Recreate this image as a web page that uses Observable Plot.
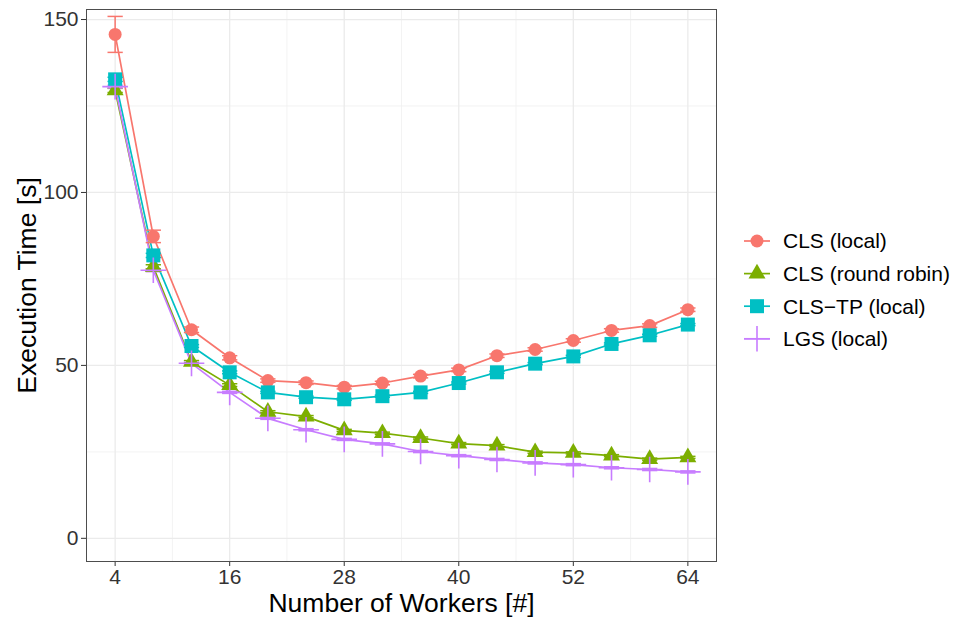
<!DOCTYPE html>
<html>
<head>
<meta charset="utf-8">
<script src="https://cdn.jsdelivr.net/npm/d3@7"></script>
<script src="https://cdn.jsdelivr.net/npm/@observablehq/plot@0.6"></script>
<style>
  html, body { margin: 0; padding: 0; background: #fff; }
  #chart { width: 953px; height: 621px; }
</style>
</head>
<body>
<div id="chart"></div>
<script>
// Execution time vs. number of workers for four scheduling variants
const workers = [4, 8, 12, 16, 20, 24, 28, 32, 36, 40, 44, 48, 52, 56, 60, 64];

const seriesNames = ["CLS (local)", "CLS (round robin)", "CLS\u2212TP (local)", "LGS (local)"];
const seriesColors = ["#F8766D", "#7CAE00", "#00BFC4", "#C77CFF"];
const seriesSymbols = ["circle", "triangle", "square", "plus"];

const clsLocal = [145.7, 87.3, 60.3, 52.2, 45.6, 45.0, 43.7, 44.9, 46.9, 48.7, 52.8, 54.6, 57.2, 60.1, 61.5, 66.1];
const clsRoundRobin = [129.5, 78.5, 51.0, 44.3, 36.6, 35.2, 31.2, 30.4, 29.0, 27.4, 26.8, 24.9, 24.7, 23.9, 22.9, 23.4];
const clsTpLocal = [132.7, 81.8, 55.6, 48.0, 42.2, 40.8, 40.2, 41.1, 42.2, 44.9, 48.0, 50.5, 52.6, 56.2, 58.7, 61.8];
const lgsLocal = [130.6, 77.5, 50.6, 42.2, 34.7, 31.4, 28.6, 27.3, 25.1, 23.9, 22.8, 21.8, 21.3, 20.4, 19.9, 19.2];

// standard errors of the repeated runs
const clsLocalErr = [5.2, 1.8, 0.8, 0.6, 0.5, 0.5, 0.5, 0.5, 0.5, 0.5, 0.5, 0.5, 0.5, 0.5, 0.5, 0.5];
const clsRoundRobinErr = [0.6, 0.6, 0.4, 0.4, 0.3, 0.3, 0.3, 0.3, 0.3, 0.3, 0.3, 0.3, 0.3, 0.3, 0.3, 0.3];
const clsTpLocalErr = [0.6, 0.6, 0.4, 0.4, 0.3, 0.3, 0.3, 0.3, 0.3, 0.3, 0.3, 0.3, 0.3, 0.3, 0.3, 0.3];
const lgsLocalErr = [0.4, 0.4, 0.3, 0.3, 0.3, 0.3, 0.3, 0.3, 0.3, 0.3, 0.3, 0.3, 0.3, 0.3, 0.3, 0.3];

const xTicks = [4, 16, 28, 40, 52, 64];
const xMinor = [10, 22, 34, 46, 58];
const yTicks = [0, 50, 100, 150];
const yMinor = [25, 75, 125];

const xTitle = "Number of Workers [#]";
const yTitle = "Execution Time [s]";

// tidy rows
const valueSets = [clsLocal, clsRoundRobin, clsTpLocal, lgsLocal];
const errSets = [clsLocalErr, clsRoundRobinErr, clsTpLocalErr, lgsLocalErr];
const rows = [];
seriesNames.forEach((name, i) => {
  workers.forEach((w, j) => {
    rows.push({series: name, shape: seriesSymbols[i], x: w, y: valueSets[i][j], e: errSets[i][j]});
  });
});
const ofShape = s => rows.filter(d => d.shape === s);
const capHalf = 0.8;
const sizeOf = {circle: 6.5, triangle: 6.3, square: 7.9, plus: 8.3};

const font = "'Liberation Sans', Arial, Helvetica, sans-serif";

const svg = Plot.plot({
  width: 953,
  height: 621,
  marginLeft: 86,
  marginRight: 237,
  marginTop: 9,
  marginBottom: 60,
  style: {fontFamily: font, fontSize: "21px", background: "#fff", overflow: "visible"},
  x: {domain: [1, 67]},
  y: {domain: [-6.7, 152.9]},
  color: {domain: seriesNames, range: seriesColors},
  marks: [
    // grid
    Plot.ruleX(xMinor, {stroke: "#f2f2f2", strokeWidth: 0.9}),
    Plot.ruleY(yMinor, {stroke: "#f2f2f2", strokeWidth: 0.9}),
    Plot.ruleX(xTicks, {stroke: "#ebebeb", strokeWidth: 1.3}),
    Plot.ruleY(yTicks, {stroke: "#ebebeb", strokeWidth: 1.3}),
    // axes
    Plot.axisX({ticks: xTicks, tickSize: 5, tickPadding: 3, label: null, color: "#333", fontSize: 21}),
    Plot.axisY({ticks: yTicks, tickSize: 5, tickPadding: 3, label: null, color: "#333", fontSize: 21}),
    Plot.text([xTitle], {frameAnchor: "bottom", textAnchor: "middle", lineAnchor: "middle", dy: 42, fontSize: 26.5, fill: "#000"}),
    Plot.text([yTitle], {frameAnchor: "left", textAnchor: "middle", lineAnchor: "middle", dx: -59, rotate: -90, fontSize: 26.5, fill: "#000"}),
    // series lines
    Plot.line(rows, {x: "x", y: "y", z: "series", stroke: "series", strokeWidth: 1.7}),
    // error bars
    Plot.ruleX(rows, {x: "x", y1: d => d.y - d.e, y2: d => d.y + d.e, stroke: "series", strokeWidth: 1.5}),
    Plot.link(rows, {x1: d => d.x - capHalf, x2: d => d.x + capHalf, y1: d => d.y + d.e, y2: d => d.y + d.e, stroke: "series", strokeWidth: 1.5}),
    Plot.link(rows, {x1: d => d.x - capHalf, x2: d => d.x + capHalf, y1: d => d.y - d.e, y2: d => d.y - d.e, stroke: "series", strokeWidth: 1.5}),
    // points, one mark per shape
    Plot.dot(ofShape("circle"), {x: "x", y: "y", symbol: "circle", fill: "series", r: sizeOf.circle}),
    Plot.dot(ofShape("triangle"), {x: "x", y: "y", symbol: "triangle", fill: "series", r: sizeOf.triangle}),
    Plot.dot(ofShape("square"), {x: "x", y: "y", symbol: "square", fill: "series", r: sizeOf.square}),
    Plot.dot(ofShape("plus"), {x: "x", y: "y", symbol: "plus", stroke: "series", fill: "none", strokeWidth: 1.6, r: sizeOf.plus}),
    // panel border
    Plot.frame({stroke: "#4d4d4d", strokeWidth: 1})
  ]
});

// legend to the right of the panel
const legend = d3.select(svg).append("g")
  .attr("transform", "translate(744, 241)")
  .attr("font-family", font)
  .attr("font-size", 21)
  .attr("text-anchor", "start");
seriesNames.forEach((name, i) => {
  const g = legend.append("g").attr("transform", `translate(0, ${i * 32.6})`);
  g.append("line").attr("x1", 0).attr("x2", 26).attr("y1", 0).attr("y2", 0)
    .attr("stroke", seriesColors[i]).attr("stroke-width", 1.7);
  const sym = seriesSymbols[i];
  const r = sizeOf[sym];
  const type = {circle: d3.symbolCircle, triangle: d3.symbolTriangle, square: d3.symbolSquare, plus: d3.symbolPlus}[sym];
  const path = g.append("path").attr("transform", "translate(13, 0)")
    .attr("d", d3.symbol(type, Math.PI * r * r)());
  if (sym === "plus") path.attr("fill", "none").attr("stroke", seriesColors[i]).attr("stroke-width", 1.6);
  else path.attr("fill", seriesColors[i]);
  g.append("text").attr("x", 39).attr("y", 0).attr("dy", "0.35em").attr("fill", "#000").text(name);
});

document.getElementById("chart").appendChild(svg);
</script>
</body>
</html>
